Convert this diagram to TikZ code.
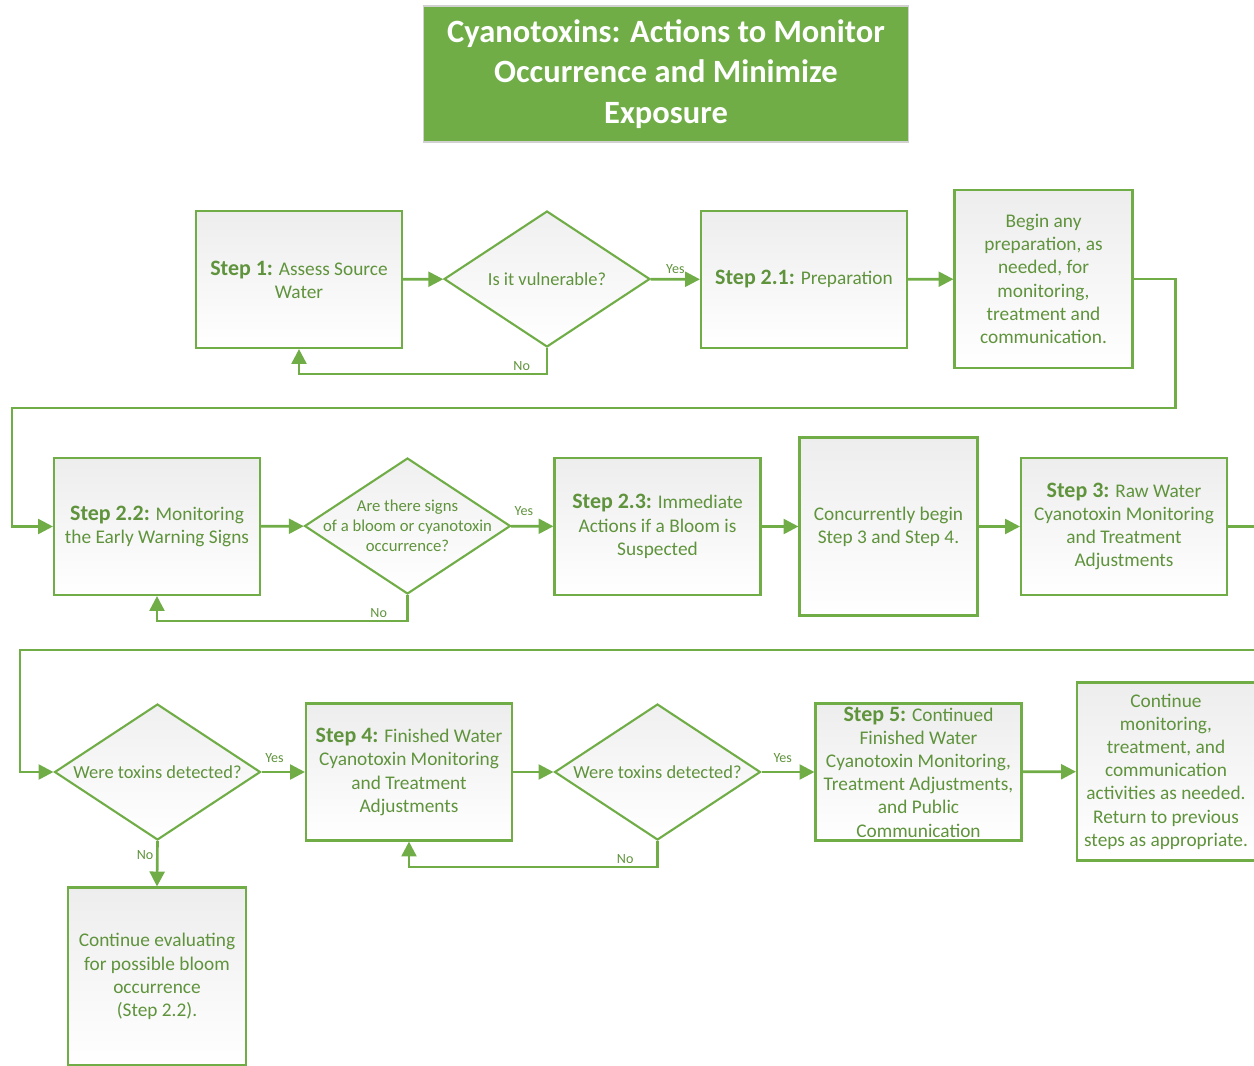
\documentclass[tikz,border=0pt]{standalone}
\usepackage{fontspec}
\setmainfont{Carlito}
\usetikzlibrary{shapes.geometric,arrows.meta,positioning}

\definecolor{epagreen}{HTML}{70AD47}
\colorlet{steptext}{epagreen!85!black}
\newcommand{\stp}[1]{{\fontsize{12.5}{13.3}\selectfont\bfseries #1}}

\tikzset{
  titlebox/.style={rectangle, fill=epagreen, draw=black!18, line width=0.6pt, text=white,
    align=center, minimum width=9.72cm, minimum height=2.72cm,
    font=\fontsize{18.5}{23.2}\selectfont\bfseries},
  stepbox/.style={rectangle, draw=epagreen, line width=1.2pt, top color=black!7, bottom color=white,
    text=steptext, align=center, inner sep=2pt, minimum width=4.12cm, minimum height=2.74cm,
    font=\fontsize{11}{13.2}\selectfont},
  bigbox/.style={stepbox, minimum width=3.56cm, minimum height=3.56cm},
  decision/.style={diamond, draw=epagreen, line width=1.2pt, top color=black!6, bottom color=white,
    inner sep=0pt, minimum width=4.12cm, minimum height=2.72cm},
  dtext/.style={text=steptext, align=center, inner sep=0pt, font=\fontsize{10.5}{13}\selectfont},
  conn/.style={draw=epagreen, line width=1.5pt, -{Triangle[length=8.5pt,width=8.5pt]}},
  yesno/.style={text=steptext, inner sep=1.5pt, font=\fontsize{8}{9}\selectfont}
}

\begin{document}
\begin{tikzpicture}[x=0.02cm, y=-0.02cm]
  \useasboundingbox (0,0) rectangle (1254,1065);

  % title
  \node[titlebox] (title) at (666,74) {Cyanotoxins: Actions to Monitor\\Occurrence and Minimize\\Exposure};

  % first row
  \node[stepbox]  (s1)   at (299,279.5)  {\stp{Step 1:} Assess Source\\Water};
  \node[decision, label={[dtext]center:Is it vulnerable?}] (d1) at (547,279) {};
  \node[stepbox]  (s21)  at (804,279.5)  {\stp{Step 2.1:} Preparation};
  \node[bigbox]   (prep) at (1043.5,279) {Begin any\\preparation, as\\needed, for\\monitoring,\\treatment and\\communication.};

  % second row
  \node[stepbox]  (s22)  at (157,526.5)  {\stp{Step 2.2:} Monitoring\\the Early Warning Signs};
  \node[decision, label={[dtext, font=\fontsize{9.5}{11.4}\selectfont]center:{Are there signs\\of a bloom or cyanotoxin\\occurrence?}}] (d2) at (407.5,526) {};
  \node[stepbox]  (s23)  at (657.5,526.5) {\stp{Step 2.3:} Immediate\\Actions if a Bloom is\\Suspected};
  \node[bigbox]   (conc) at (888.5,526.5) {Concurrently begin\\Step 3 and Step 4.};
  \node[stepbox]  (s3)   at (1124,526.5)  {\stp{Step 3:} Raw Water\\Cyanotoxin Monitoring\\and Treatment\\Adjustments};

  % third row
  \node[decision, label={[dtext]center:Were toxins detected?}] (d3) at (157.5,772) {};
  \node[stepbox]  (s4)   at (409,772)     {\stp{Step 4:} Finished Water\\Cyanotoxin Monitoring\\and Treatment\\Adjustments};
  \node[decision, label={[dtext]center:Were toxins detected?}] (d4) at (657.5,772) {};
  \node[stepbox, inner sep=0pt] (s5) at (918.5,772) {\stp{Step 5:} Continued\\Finished Water\\Cyanotoxin Monitoring,\\Treatment Adjustments,\\and Public\\Communication};
  \node[bigbox, inner sep=0pt] (cont) at (1166,771.5) {Continue\\monitoring,\\treatment, and\\communication\\activities as needed.\\Return to previous\\steps as appropriate.};
  \node[bigbox]   (ceval) at (157,976.5) {Continue evaluating\\for possible bloom\\occurrence\\(Step 2.2).};

  % connectors, first row
  \draw[conn] (s1) -- (d1);
  \draw[conn] (d1) -- node[yesno, above, pos=0.5, yshift=1pt] {Yes} (s21);
  \draw[conn] (s21) -- (prep);
  \draw[conn] (d1.south) -- ++(0,26) coordinate (no1) -| (s1.south);
  \node[yesno, above left=0pt and 8pt of no1] (no1l) {No};
  \draw[conn] (prep.east) -- ++(42,0) |- (12,408) |- (s22.west);

  % connectors, second row
  \draw[conn] (s22) -- (d2);
  \draw[conn] (d2) -- node[yesno, above, pos=0.3, yshift=4pt] {Yes} (s23);
  \draw[conn] (s23) -- (conc);
  \draw[conn] (conc) -- (s3);
  \draw[conn] (d2.south) -- ++(0,26) coordinate (no2) -| (s22.south);
  \node[yesno, above left=0pt and 10pt of no2] (no2l) {No};
  \draw[conn] (s3.east) -- (1262,526.5) |- (20,650) |- (d3.west);

  % connectors, third row
  \draw[conn] (d3) -- node[yesno, above, pos=0.3, yshift=3pt] {Yes} (s4);
  \draw[conn] (d3.south) -- node[yesno, left, pos=0.3] {No} (ceval.north);
  \draw[conn] (s4) -- (d4);
  \draw[conn] (d4.south) -- ++(0,26) coordinate (no3) -| (s4.south);
  \node[yesno, above left=0pt and 12pt of no3] (no3l) {No};
  \draw[conn] (d4) -- node[yesno, above, pos=0.4, yshift=3pt] {Yes} (s5);
  \draw[conn] (s5) -- (cont);
\end{tikzpicture}
\end{document}
